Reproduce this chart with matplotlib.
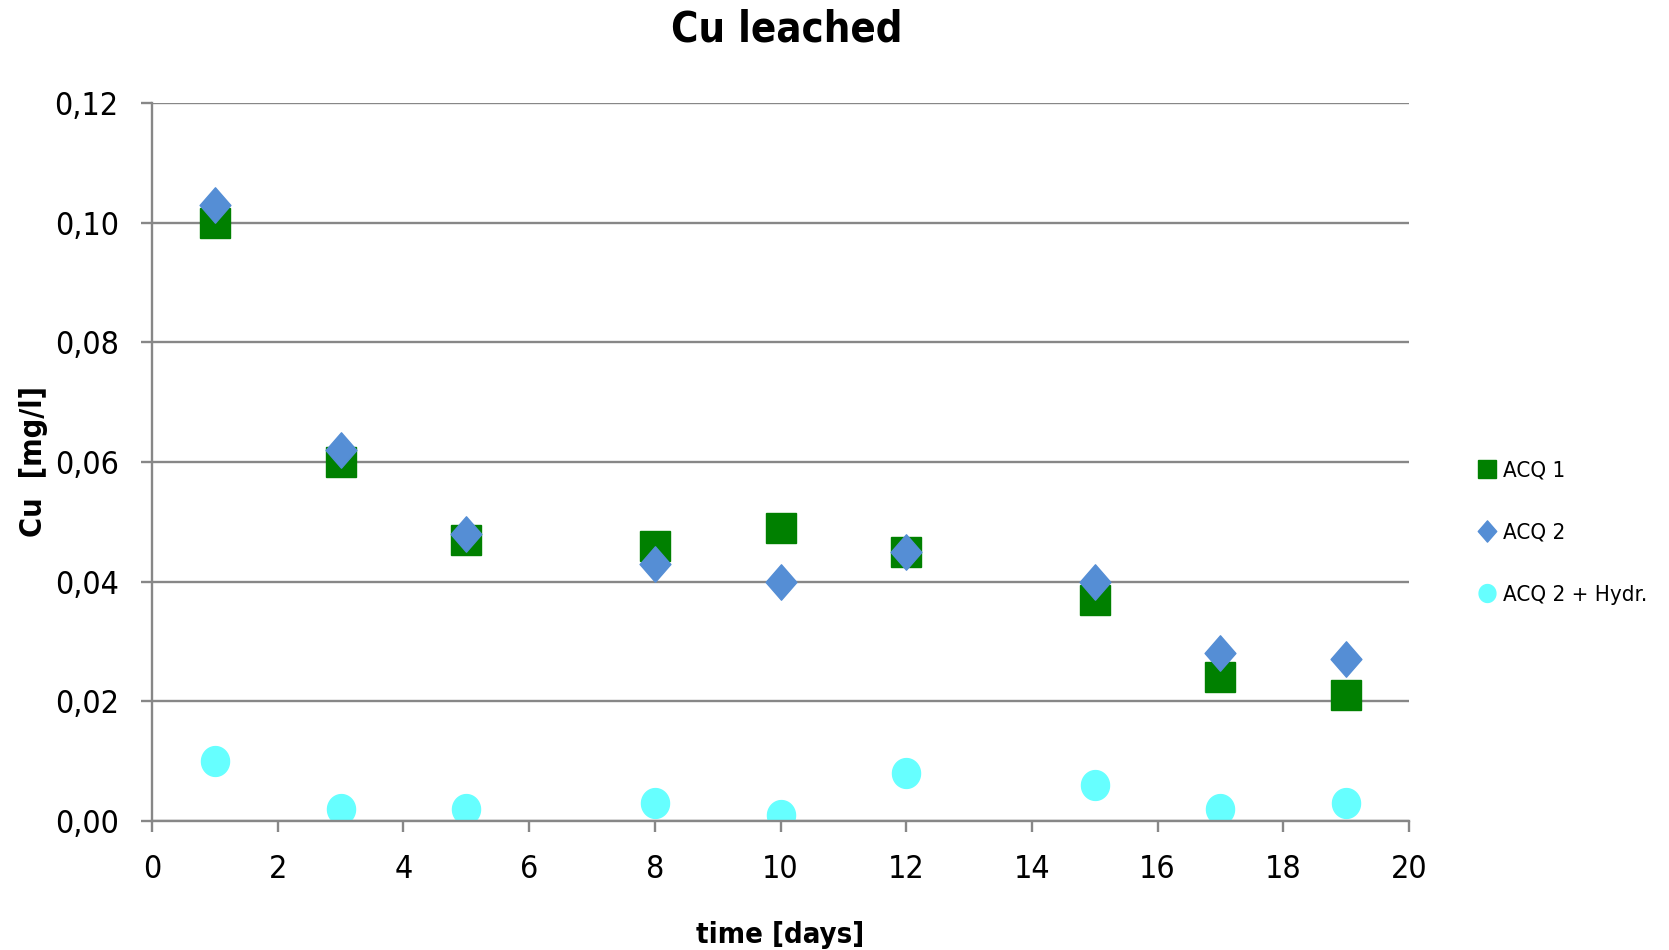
import matplotlib
matplotlib.use("Agg")
import matplotlib.pyplot as plt
from matplotlib.path import Path
from matplotlib.ticker import FuncFormatter, MultipleLocator
import numpy as np

days = [1, 3, 5, 8, 10, 12, 15, 17, 19]
acq1 = [0.100, 0.060, 0.047, 0.046, 0.049, 0.045, 0.037, 0.024, 0.021]
acq2 = [0.103, 0.062, 0.048, 0.043, 0.040, 0.045, 0.040, 0.028, 0.027]
acq2_hydr = [0.010, 0.002, 0.002, 0.003, 0.001, 0.008, 0.006, 0.002, 0.003]

plt.rcParams['font.family'] = ['DejaVu Sans']
plt.rcParams['font.stretch'] = 'condensed'

# markers a bit taller than wide, like the original
t = np.linspace(0, 2 * np.pi, 60)
ellipse = Path(np.column_stack([0.94 * np.cos(t), np.sin(t)]))
diamond = Path([(0, 1), (0.87, 0), (0, -1), (-0.87, 0), (0, 1)], closed=True)

grey = '#878787'

fig = plt.figure(figsize=(16.69, 9.5), dpi=100)
ax = fig.add_axes([0.0911, 0.1358, 0.7531, 0.7558])

ax.plot(days, acq1, ls='none', marker='s', ms=21, color='#008000', mec='#008000', label='ACQ 1')
ax.plot(days, acq2, ls='none', marker=diamond, ms=25.5, color='#558ED5', mec='#558ED5', label='ACQ 2')
ax.plot(days, acq2_hydr, ls='none', marker=ellipse, ms=21.5, color='#66FFFF', mec='#66FFFF',
        label='ACQ 2 + Hydr.')

ax.set_xlim(0, 20)
ax.set_ylim(0, 0.12)
ax.xaxis.set_major_locator(MultipleLocator(2))
ax.yaxis.set_major_locator(MultipleLocator(0.02))
ax.yaxis.set_major_formatter(FuncFormatter(lambda v, p: ('%.2f' % v).replace('.', ',')))

ax.grid(axis='y', color=grey, lw=1.7)
ax.set_axisbelow(True)
for s in ['top', 'right']:
    ax.spines[s].set_visible(False)
for s in ['left', 'bottom']:
    ax.spines[s].set_color(grey)
    ax.spines[s].set_linewidth(1.7)
ax.tick_params(axis='both', direction='out', length=8, width=1.7, color=grey,
               labelsize=23, pad=16)

ax.set_title('Cu leached', fontsize=30, fontweight='bold', pad=44, x=0.505)
ax.set_xlabel('time [days]', fontsize=21, fontweight='bold', labelpad=26)
ax.set_ylabel('Cu  [mg/l]', fontsize=22, fontweight='bold', labelpad=5)

leg = ax.legend(loc='center left', bbox_to_anchor=(0.875, 0.439), bbox_transform=fig.transFigure,
                frameon=False, fontsize=16, markerscale=0.6, handlelength=0.6,
                handletextpad=0.4, labelspacing=1.9)

fig.savefig('out.png', dpi=100)
